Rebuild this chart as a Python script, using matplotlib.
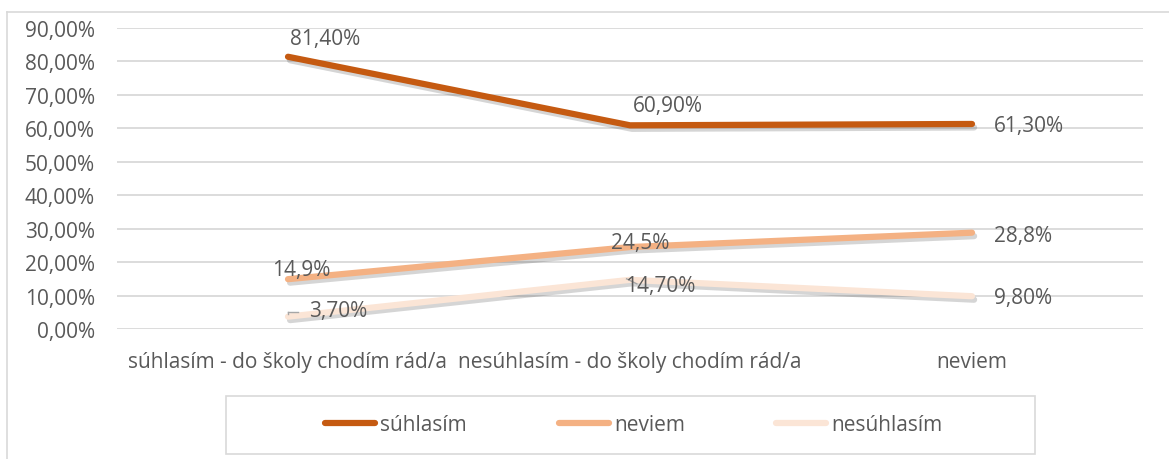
import matplotlib.pyplot as plt
import matplotlib.patheffects as pe
from matplotlib.patches import Rectangle
from matplotlib.lines import Line2D

# data
categories = ["súhlasím - do školy chodím rád/a", "nesúhlasím - do školy chodím rád/a", "neviem"]
series_names = ["súhlasím", "neviem", "nesúhlasím"]
suhlasim = [0.814, 0.609, 0.613]
neviem = [0.149, 0.245, 0.288]
nesuhlasim = [0.037, 0.147, 0.098]
suhlasim_labels = ["81,40%", "60,90%", "61,30%"]
neviem_labels = ["14,9%", "24,5%", "28,8%"]
nesuhlasim_labels = ["3,70%", "14,70%", "9,80%"]
yticks = [0.0, 0.1, 0.2, 0.3, 0.4, 0.5, 0.6, 0.7, 0.8, 0.9]
ytick_labels = ["0,00%", "10,00%", "20,00%", "30,00%", "40,00%", "50,00%",
                "60,00%", "70,00%", "80,00%", "90,00%"]

colors = ["#C55A11", "#F4B183", "#FBE5D6"]
txt = "#595959"
grid = "#D9D9D9"
fs = 15
plt.rcParams['font.family'] = ['Open Sans', 'DejaVu Sans']

W, H = 1169, 460
fig = plt.figure(figsize=(W / 100, H / 100), dpi=100)

# outer chart border (left and top visible)
fig.add_artist(Line2D([7 / W, 7 / W], [0, 1 - 13 / H], color=grid, lw=1.2))
fig.add_artist(Line2D([7 / W, 1], [1 - 13 / H, 1 - 13 / H], color=grid, lw=1.2))

ax = fig.add_axes([117 / W, 1 - 330 / H, 1026 / W, 301 / H])
ax.set_ylim(0, 0.9)
ax.set_xlim(-0.5, 2.5)
x = list(range(len(categories)))
ax.set_yticks(yticks)
ax.set_yticklabels(ytick_labels)
ax.set_xticks(x)
ax.set_xticklabels(categories)
ax.tick_params(length=0, labelsize=fs, colors=txt)
ax.tick_params(axis='y', pad=16)
ax.tick_params(axis='x', pad=16)
for s in ax.spines.values():
    s.set_visible(False)
ax.grid(axis='y', color=grid, lw=1.3)
ax.set_axisbelow(True)

shadow = [pe.SimpleLineShadow(offset=(1.5, -2.5), alpha=0.2, shadow_color="#303030"), pe.Normal()]
data = [suhlasim, neviem, nesuhlasim]
for vals, c, name in zip(data, colors, series_names):
    ax.plot(x, vals, color=c, lw=4.5, solid_capstyle='round',
            path_effects=shadow, label=name, zorder=3)

# label offsets in pixels (left edge / vertical center)
offsets = {
    0: [(2, 18), (3, 20), (22, -2)],
    1: [(-16, 10), (-19, 5), (22, -3)],
    2: [(21, 6), (-5, -6), (22, -1)],
}
all_labels = [suhlasim_labels, neviem_labels, nesuhlasim_labels]
for si, (vals, labs) in enumerate(zip(data, all_labels)):
    for i, (v, lab) in enumerate(zip(vals, labs)):
        ax.annotate(lab, (i, v), xytext=offsets[si][i], textcoords='offset pixels',
                    ha='left', va='center', fontsize=fs, color=txt, zorder=5)

# small leader lines
ax.plot([-0.0, 0.03], [0.052, 0.052], color="#A6A6A6", lw=1, zorder=4)
ax.plot([-0.0, -0.0], [0.044, 0.052], color="#A6A6A6", lw=1, zorder=4)
ax.plot([0.99, 1.0, 1.02], [0.15, 0.145, 0.135], color="#A6A6A6", lw=1, zorder=4)

# legend box, handles without shadow
fig.add_artist(Rectangle((226 / W, 5 / H), 809 / W, 58 / H, transform=fig.transFigure,
                         fill=False, edgecolor=grid, lw=1.2))
handles = [Line2D([], [], color=c, lw=4.5, solid_capstyle='round') for c in colors]
fig.legend(handles, series_names, loc='center', bbox_to_anchor=(634 / W, 34 / H),
           ncol=3, frameon=False, fontsize=fs, labelcolor=txt,
           handlelength=2.4, handletextpad=0.25, columnspacing=4.4)

fig.savefig("out.png", dpi=100)
